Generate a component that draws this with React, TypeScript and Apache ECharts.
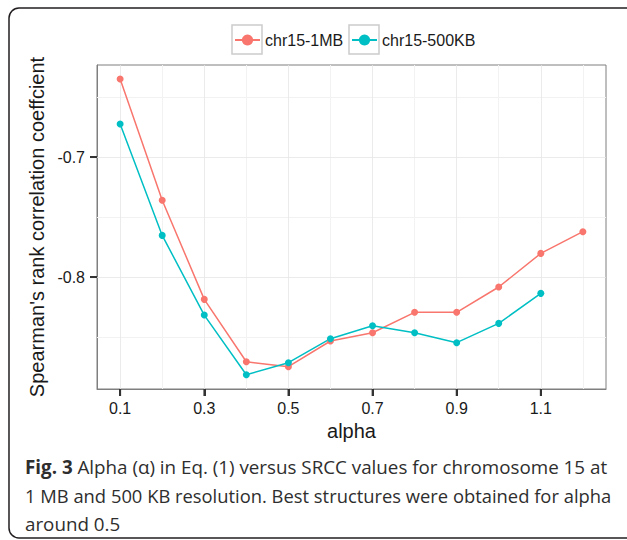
import React, { useEffect, useRef } from "react";
import * as echarts from "echarts";

const alpha = [0.1, 0.2, 0.3, 0.4, 0.5, 0.6, 0.7, 0.8, 0.9, 1.0, 1.1, 1.2];
const srcc1MB = [-0.635, -0.736, -0.8186, -0.8706, -0.8747, -0.8533, -0.8464, -0.8294, -0.8294, -0.8083, -0.7803, -0.7622];
const srcc500KB = [-0.6725, -0.7653, -0.8317, -0.8814, -0.8714, -0.8514, -0.8406, -0.8464, -0.8547, -0.8386, -0.8136];
const seriesNames = ["chr15-1MB", "chr15-500KB"];
const xTicks = [0.1, 0.3, 0.5, 0.7, 0.9, 1.1];
const yTicks = [-0.8, -0.7];
const xMajorGrid = [0.1, 0.3, 0.5, 0.7, 0.9, 1.1];
const xMinorGrid = [0.2, 0.4, 0.6, 0.8, 1.0, 1.2];
const yMajorGrid = [-0.8, -0.7];
const yMinorGrid = [-0.85, -0.75, -0.65];
const xRange = [0.045, 1.255];
const yRange = [-0.8933, -0.6233];
const captionLines = [
  "{b|Fig. 3} Alpha (α) in Eq. (1) versus SRCC values for chromosome 15 at",
  "1 MB and 500 KB resolution. Best structures were obtained for alpha",
  "around 0.5",
];
const captionScaleX = [1.0, 0.977, 1.0];

const RED = "#F8766D";
const CYAN = "#00BFC4";
const FONT = "Liberation Sans, Arial, sans-serif";
const CAP_FONT = "Open Sans, sans-serif";
const CAP_SIZE = 18.8;
const TICK_LEN = 7;
const TICK_W = 2;
const TICK_COLOR = "#333333";

export default function App() {
  const ref = useRef<HTMLDivElement>(null);
  useEffect(() => {
    if (!ref.current) return;
    const chart = echarts.init(ref.current, undefined, { renderer: "svg" });
    const gridLine = (v: number, axis: "xAxis" | "yAxis", color: string, width: number) => ({
      [axis]: v,
      lineStyle: { color, width, type: "solid" },
    });
    const markData = [
      ...xMinorGrid.map((v) => gridLine(v, "xAxis", "#f2f2f2", 1)),
      ...yMinorGrid.map((v) => gridLine(v, "yAxis", "#f2f2f2", 1)),
      ...xMajorGrid.map((v) => gridLine(v, "xAxis", "#e6e6e6", 0.8)),
      ...yMajorGrid.map((v) => gridLine(v, "yAxis", "#e6e6e6", 0.8)),
    ];
    const legendCommon = {
      orient: "horizontal",
      top: 32,
      padding: 0,
      itemWidth: 25,
      itemHeight: 14,
      selectedMode: false,
      textStyle: { fontFamily: FONT, fontSize: 16, color: "#1a1a1a" },
    };
    const tickOpt = (vals: number[]) => ({
      show: true,
      inside: false,
      length: TICK_LEN,
      customValues: vals,
      lineStyle: { color: TICK_COLOR, width: TICK_W },
    });
    const axisLine = { show: true, onZero: false, lineStyle: { color: "#7f7f7f", width: 1 } };
    const baseGraphics: any[] = [
      {
        type: "rect",
        shape: { x: 9, y: 8, width: 640, height: 530, r: 10 },
        style: { fill: "none", stroke: "#231f20", lineWidth: 1.5 },
        silent: true,
      },
      {
        type: "rect",
        shape: { x: 232, y: 25, width: 30, height: 29 },
        style: { fill: "none", stroke: "#cccccc", lineWidth: 1.5 },
        silent: true,
      },
      {
        type: "rect",
        shape: { x: 349, y: 25, width: 30, height: 29 },
        style: { fill: "none", stroke: "#cccccc", lineWidth: 1.5 },
        silent: true,
      },
      ...captionLines.map((t, i) => ({
        type: "text",
        x: 25,
        y: 467 + i * 28.5,
        scaleX: captionScaleX[i],
        silent: true,
        style: {
          text: t,
          fill: "#2e2e2e",
          font: `${CAP_SIZE}px ${CAP_FONT}`,
          verticalAlign: "middle",
          align: "left",
          rich: { b: { fontWeight: "bold", fontSize: CAP_SIZE, fontFamily: CAP_FONT, fill: "#2e2e2e" } },
        },
      })),
    ];
    chart.setOption({
      animation: false,
      backgroundColor: "#ffffff",
      grid: {
        left: 97,
        top: 65,
        right: 21,
        bottom: 151,
        show: true,
        borderColor: "#7f7f7f",
        borderWidth: 1,
        backgroundColor: "transparent",
      },
      legend: [
        { ...legendCommon, data: [seriesNames[0]], left: 234 },
        { ...legendCommon, data: [seriesNames[1]], left: 351 },
      ],
      xAxis: {
        type: "value",
        min: xRange[0],
        max: xRange[1],
        name: "alpha",
        nameLocation: "middle",
        nameGap: 27,
        nameTextStyle: { fontFamily: FONT, fontSize: 20, color: "#1a1a1a" },
        axisLine,
        axisTick: tickOpt(xTicks),
        axisLabel: {
          customValues: xTicks,
          margin: 11,
          fontFamily: FONT,
          fontSize: 16,
          color: "#1a1a1a",
          formatter: (v: number) => v.toFixed(1),
        },
        splitLine: { show: false },
      },
      yAxis: {
        type: "value",
        min: yRange[0],
        max: yRange[1],
        name: "Spearman's rank correlation coeffcient",
        nameLocation: "middle",
        nameGap: 45,
        nameTextStyle: { fontFamily: FONT, fontSize: 20, color: "#1a1a1a" },
        axisLine,
        axisTick: tickOpt(yTicks),
        axisLabel: {
          customValues: yTicks,
          margin: 12,
          fontFamily: FONT,
          fontSize: 16,
          color: "#1a1a1a",
          formatter: (v: number) => v.toFixed(1),
        },
        splitLine: { show: false },
      },
      series: [
        {
          name: "gridlines",
          type: "line",
          data: [],
          silent: true,
          z: 1,
          markLine: {
            silent: true,
            symbol: ["none", "none"],
            label: { show: false },
            animation: false,
            data: markData,
          },
        },
        {
          name: "xticks",
          type: "scatter",
          silent: true,
          clip: false,
          z: 6,
          symbol: "rect",
          symbolSize: [TICK_W, TICK_LEN],
          symbolOffset: [0, "50%"],
          itemStyle: { color: TICK_COLOR },
          data: xTicks.map((v) => [v, yRange[0]]),
        },
        {
          name: "yticks",
          type: "scatter",
          silent: true,
          clip: false,
          z: 6,
          symbol: "rect",
          symbolSize: [TICK_LEN, TICK_W],
          symbolOffset: ["-50%", 0],
          itemStyle: { color: TICK_COLOR },
          data: yTicks.map((v) => [xRange[0], v]),
        },
        {
          name: seriesNames[0],
          type: "line",
          z: 5,
          data: alpha.map((a, i) => [a, srcc1MB[i]]),
          symbol: "circle",
          symbolSize: 7,
          itemStyle: { color: RED },
          lineStyle: { color: RED, width: 1.5 },
        },
        {
          name: seriesNames[1],
          type: "line",
          z: 5,
          data: srcc500KB.map((v, i) => [alpha[i], v]),
          symbol: "circle",
          symbolSize: 7,
          itemStyle: { color: CYAN },
          lineStyle: { color: CYAN, width: 1.5 },
        },
      ],
      graphic: baseGraphics,
    });
    return () => chart.dispose();
  }, []);
  return (
    <div
      ref={ref}
      style={{ position: "fixed", left: 0, top: 0, width: 627, height: 540 }}
    />
  );
}
